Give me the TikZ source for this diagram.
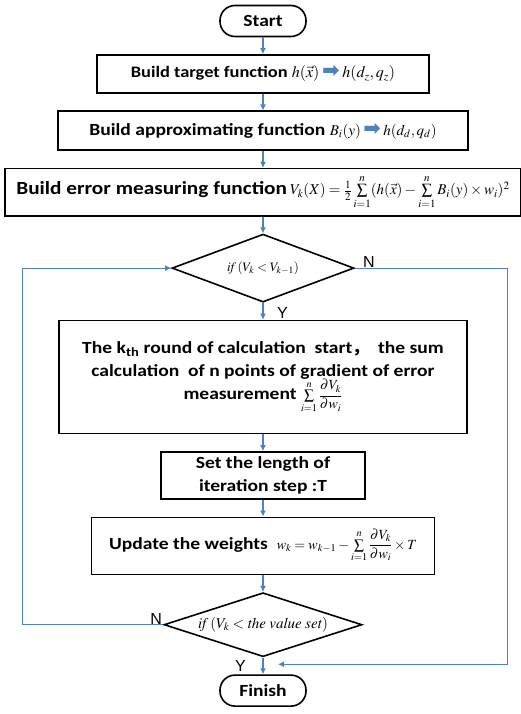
\documentclass[tikz,border=0pt]{standalone}
\usepackage{amsmath}
\usepackage{mathptmx}
\usepackage[no-math]{fontspec}
\setmainfont{Carlito}[FakeStretch=1.15]
\setsansfont{Liberation Sans}
\newfontfamily\symfont{DejaVu Sans}
\newfontfamily\cjk{Noto Sans CJK SC}
\usepackage{xcolor}
\usetikzlibrary{arrows.meta,positioning,shapes.geometric,calc}
\definecolor{flowblue}{RGB}{79,129,189}
\newcommand{\fatarrow}{{\fontsize{21}{21}\selectfont\color{flowblue}\symfont\char"27A1}}
\newcommand{\msize}[2]{{\fontsize{#1}{#1}\selectfont#2}}

\begin{document}
\begin{tikzpicture}[
    x=1pt, y=-1pt,
    node distance=16.8pt,
    every node/.style={font=\fontsize{17}{23}\selectfont\bfseries},
    stepbox/.style={rectangle,draw,line width=1.6pt,align=center,inner sep=1pt},
    terminal/.style={rectangle,draw,line width=1.6pt,rounded corners=15pt,minimum width=86pt,minimum height=31pt,inner sep=0pt},
    decision/.style={diamond,draw,line width=1.6pt,inner sep=0pt,font=\fontsize{13}{16}\selectfont},
    lbl/.style={inner sep=0pt,font=\fontsize{16}{18}\selectfont\sffamily},
    arrow/.style={-{Latex[length=6pt,width=6pt]},flowblue,line width=1.1pt},
    link/.style={flowblue,line width=1.1pt}
]
\useasboundingbox (0,0) rectangle (520,714);
\node[terminal] (start) at (263,21) {Start};
\node[stepbox,below=of start,minimum width=332pt,minimum height=38pt,font=\fontsize{16}{20}\selectfont\bfseries] (target) {Build target function $h(\vec{x})$\,\fatarrow\,$h(d_z,q_z)$};
\node[stepbox,below=of target,minimum width=410pt,minimum height=39pt] (approx) {Build approximating function \msize{15}{$B_i(y)$\,\fatarrow\,$h(d_d,q_d)$}};
\node[stepbox,below=of approx,minimum width=516pt,minimum height=47pt,inner sep=0pt,font=\fontsize{18.5}{22}\selectfont\bfseries] (error) {Build error measuring function\,\msize{15}{$V_k(X)=\frac{1}{2}\sum\limits_{i=1}^{n}(h(\vec{x})-\sum\limits_{i=1}^{n}B_i(y)\times w_i)^2$}};
\node[decision,below=of error,shape aspect=2.7,minimum width=182pt,minimum height=68pt] (check) {$\mathit{if}\,(V_k<V_{k-1})$};
\node[stepbox,below=of check,minimum width=408pt,minimum height=113pt] (round) {The k$_{\text{th}}$ round of calculation~ start{\cjk ，}~ the sum\\calculation~ of n points of gradient of error\\measurement \msize{14}{$\sum\limits_{i=1}^{n}\dfrac{\partial V_k}{\partial w_i}$}};
\node[stepbox,below=of round,minimum width=204pt,minimum height=47pt] (length) {Set the length of\\iteration step :T};
\node[stepbox,below=of length,minimum width=343pt,minimum height=57pt] (update) {Update the weights~ \msize{14}{$w_k=w_{k-1}-\sum\limits_{i=1}^{n}\dfrac{\partial V_k}{\partial w_i}\times T$}};
\node[decision,below=of update,shape aspect=3.1,minimum width=198pt,minimum height=64pt,font=\fontsize{15}{17}\selectfont] (stop) {$\mathit{if}\,(V_k<\mathit{the}\;\mathit{value}\;\mathit{set})$};
\node[terminal,below=of stop] (finish) {Finish};

% main flow
\draw[arrow] (start) -- (target);
\draw[arrow] (target) -- (approx);
\draw[arrow] (approx) -- (error);
\draw[arrow] (error) -- (check);
\draw[arrow] (check) -- (round);
\draw[arrow] (round) -- (length);
\draw[arrow] (length) -- (update);
\draw[arrow] (update) -- (stop);
\draw[arrow] (stop) -- (finish);

% loops
\coordinate (merge) at ($(stop.south)!0.4!(finish.north)+(15,0)$);
\draw[link,arrow] (check.east) -- ++(153,0) |- (merge);
\draw[link,arrow] (stop.west) -- ++(-141,0) |- (check.west);

\node[lbl,above right=0pt and 8pt of check.east] (checkno) {N};
\node[lbl,below right=4pt and 14pt of check.south] (checkyes) {Y};
\node[lbl,above left=0pt and 1pt of stop.west] (stopno) {N};
\node[lbl,below left=3pt and 17pt of stop.south] (stopyes) {Y};
\end{tikzpicture}
\end{document}
